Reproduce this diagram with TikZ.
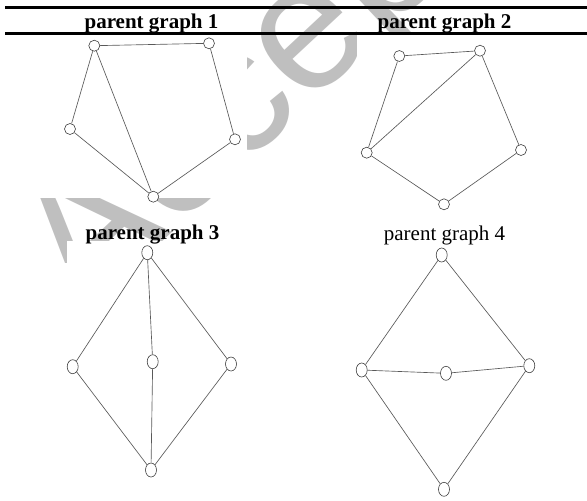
\documentclass[tikz,border=0pt]{standalone}
\usepackage{fontspec}
\setmainfont{Liberation Serif}
\newfontfamily\wmfont{Liberation Sans}
\usetikzlibrary{shapes.geometric}
\begin{document}
\begin{tikzpicture}[x=1pt,y=-1pt,
  vtx/.style={circle,draw=black!75,fill=white,line width=0.6pt,minimum size=11pt,inner sep=0pt},
  vtxo/.style={ellipse,draw=black!75,fill=white,line width=0.6pt,minimum width=11pt,minimum height=14pt,inner sep=0pt},
  edge/.style={draw=black!65,line width=0.65pt},
  title/.style={anchor=base,font=\fontsize{21}{21}\selectfont,inner sep=0pt},
  rule/.style={line width=3pt},
  sheet/.style={fill=white,draw=none}]
\useasboundingbox (0,0) rectangle (587,501);

% background watermark, partly hidden by the white figure panels
\begin{scope}
  \clip (0,0) rectangle (587,501);
  \node[rotate=43,anchor=base west,text=black!25,inner sep=0pt,
        font=\wmfont\fontsize{181}{181}\selectfont] (wm) at (84.6,314.3) {Accepted};
  \fill[sheet] (30,34) rectangle (247,198);
  \fill[sheet] (357,34) rectangle (532,216);
  \fill[sheet] (67,241) -- (240,241) -- (240,492) -- (30,492) -- (30,263) -- (67,263) -- cycle;
  \fill[sheet] (350,244) rectangle (545,501);
\end{scope}

% table rules
\coordinate (r1a) at (5,7.5);  \coordinate (r1b) at (587,7.5);
\coordinate (r2a) at (5,33.5); \coordinate (r2b) at (587,33.5);
\draw[rule] (r1a) -- (r1b);
\draw[rule] (r2a) -- (r2b);

% panel titles
\node[title,font=\fontsize{21}{21}\selectfont\bfseries] (t1) at (151.5,28) {parent graph 1};
\node[title,font=\fontsize{21}{21}\selectfont\bfseries] (t2) at (444.5,28) {parent graph 2};
\node[title,font=\fontsize{21}{21}\selectfont\bfseries] (t3) at (152.5,239) {parent graph 3};
\node[title] (t4) at (444.5,240) {parent graph 4};

% parent graph 1
\node[vtx] (a1) at (94.3,45.7) {};
\node[vtx] (a2) at (209,43.3) {};
\node[vtx] (a3) at (70,129) {};
\node[vtx] (a4) at (235,139.3) {};
\node[vtx] (a5) at (153.3,196.7) {};
\draw[edge] (a1) -- (a2);
\draw[edge] (a1) -- (a3);
\draw[edge] (a1) -- (a5);
\draw[edge] (a3) -- (a5);
\draw[edge] (a2) -- (a4);
\draw[edge] (a4) -- (a5);

% parent graph 2
\node[vtx] (b1) at (399.3,56) {};
\node[vtx] (b2) at (480,50.7) {};
\node[vtx] (b3) at (366.7,152.7) {};
\node[vtx] (b4) at (521,150) {};
\node[vtx] (b5) at (444,204.3) {};
\draw[edge] (b1) -- (b2);
\draw[edge] (b1) -- (b3);
\draw[edge] (b2) -- (b3);
\draw[edge] (b2) -- (b4);
\draw[edge] (b3) -- (b5);
\draw[edge] (b4) -- (b5);

% parent graph 3
\node[vtxo] (c1) at (147.3,252.7) {};
\node[vtxo] (c2) at (72.7,366.7) {};
\node[vtxo] (c3) at (152.7,361.7) {};
\node[vtxo] (c4) at (231,364) {};
\node[vtxo] (c5) at (151,470) {};
\draw[edge] (c1) -- (c2);
\draw[edge] (c1) -- (c3);
\draw[edge] (c1) -- (c4);
\draw[edge] (c2) -- (c5);
\draw[edge] (c3) -- (c5);
\draw[edge] (c4) -- (c5);

% parent graph 4
\node[vtxo] (d1) at (441.7,255) {};
\node[vtxo] (d2) at (361.7,370) {};
\node[vtxo] (d3) at (446,373.3) {};
\node[vtxo] (d4) at (529.3,365.7) {};
\node[vtxo] (d5) at (444,489.3) {};
\draw[edge] (d1) -- (d2);
\draw[edge] (d1) -- (d4);
\draw[edge] (d2) -- (d3);
\draw[edge] (d3) -- (d4);
\draw[edge] (d2) -- (d5);
\draw[edge] (d4) -- (d5);
\end{tikzpicture}
\end{document}
